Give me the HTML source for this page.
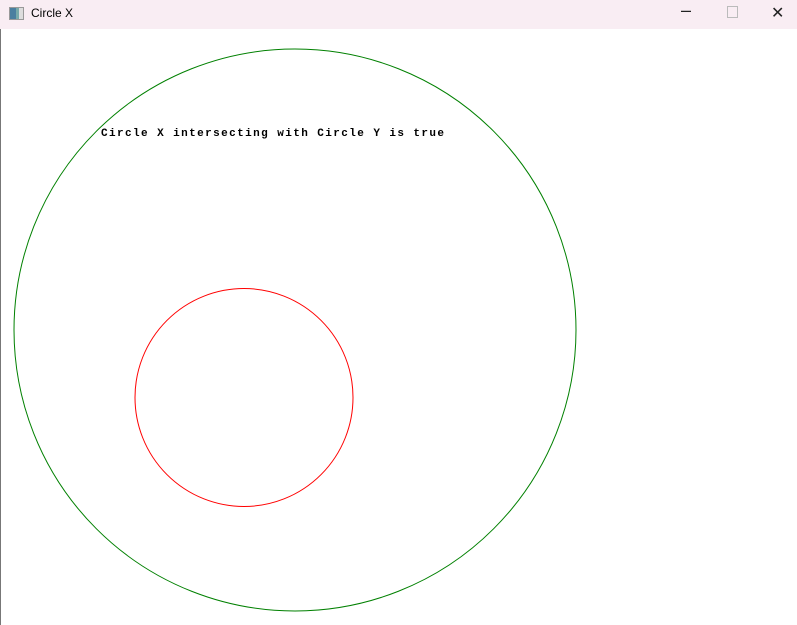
<!DOCTYPE html>
<html><head><meta charset="utf-8"><style>
body{margin:0;width:797px;height:625px;overflow:hidden;background:#fff;font-family:"Liberation Sans",sans-serif;position:relative}
#titlebar{position:absolute;left:0;top:0;width:797px;height:29px;background:#f9edf3}
#title{position:absolute;left:31px;top:6px;font-size:12px;color:#000}
#appicon{position:absolute;left:9px;top:7px;width:13px;height:11px;border:1px solid #999;background:linear-gradient(90deg,#4a7fa0 0 45%,#7aa 45% 70%,#ddd 70%)}
.ctl{position:absolute;top:4px;font-size:15px;color:#222}
#leftedge{position:absolute;left:0;top:29px;width:1px;height:596px;background:#777}
svg{position:absolute;left:0;top:0}
</style></head><body>
<div id="titlebar">
<div id="appicon"></div>
<div id="title">Circle X</div>
<div class="ctl" style="left:681px;top:0px;font-size:18px">–</div>
<div class="ctl" style="left:727px;top:6px;width:9px;height:10px;border:1px solid #bbb"></div>
<div class="ctl" style="left:771px;top:3px;font-size:16px">✕</div>
</div>
<div id="leftedge"></div>
<svg id="chart" width="797" height="625">
<text x="101" y="136" font-family="Liberation Mono, monospace" font-weight="bold" font-size="11" textLength="343" lengthAdjust="spacing" fill="#000">Circle X intersecting with Circle Y is true</text>
</svg>
<script>
const circleNames=['circle-x','circle-y'];
const centerX=[295,244];
const centerY=[330,397.5];
const radii=[281,109];
const colors=['#008000','#ff0000'];
const svg=document.getElementById('chart');
for(let i=0;i<radii.length;i++){
  const c=document.createElementNS('http://www.w3.org/2000/svg','circle');
  c.setAttribute('cx',centerX[i]);c.setAttribute('cy',centerY[i]);c.setAttribute('r',radii[i]);
  c.setAttribute('fill','none');c.setAttribute('stroke',colors[i]);c.setAttribute('stroke-width','1');
  
  
  svg.insertBefore(c,svg.firstChild);
}
</script>
</body></html>
